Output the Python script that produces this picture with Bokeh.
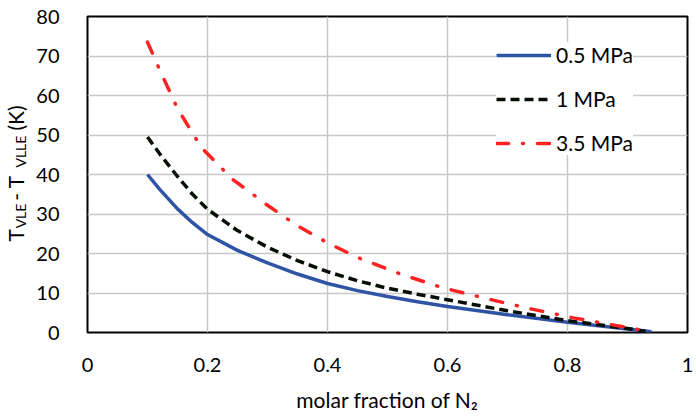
from bokeh.plotting import figure
from bokeh.models import (Range1d, FixedTicker, NumeralTickFormatter, Legend,
                          LegendItem, LinearAxis, CustomJSTickFormatter)
from bokeh.embed import file_html
from bokeh.resources import INLINE

# ---------------- data ----------------
x_ticks = [0, 0.2, 0.4, 0.6, 0.8, 1.0]
y_ticks = [0, 10, 20, 30, 40, 50, 60, 70, 80]

x_05 = [0.10, 0.12, 0.15, 0.175, 0.20, 0.25, 0.30, 0.35, 0.40, 0.45, 0.50,
        0.55, 0.60, 0.70, 0.80, 0.90, 0.94]
y_05 = [40.0, 36.3, 31.3, 27.8, 24.8, 20.8, 17.6, 14.8, 12.4, 10.6, 9.1,
        7.8, 6.6, 4.5, 2.6, 0.9, 0.2]

x_1 = [0.10, 0.12, 0.15, 0.175, 0.20, 0.25, 0.30, 0.35, 0.40, 0.45, 0.50,
       0.55, 0.60, 0.70, 0.80, 0.90, 0.93]
y_1 = [49.5, 45.3, 39.5, 35.0, 31.2, 25.8, 21.6, 18.2, 15.4, 13.1, 11.2,
       9.7, 8.3, 5.5, 3.0, 1.0, 0.3]

x_35 = [0.10, 0.12, 0.15, 0.19, 0.24, 0.30, 0.35, 0.40, 0.45, 0.52, 0.59,
        0.67, 0.735, 0.81, 0.88, 0.93]
y_35 = [73.5, 66.6, 56.7, 46.8, 39.0, 32.2, 27.0, 22.7, 19.0, 14.9, 11.4,
        8.4, 6.1, 3.7, 1.8, 0.4]

labels = ["0.5 MPa", "1 MPa", "3.5 MPa"]
x_title = "molar fraction of N\u2082"
# pieces of the y title "T_VLE - T_VLLE (K)" (main size / subscript size)
y_title_main = ["T", "- T", "(K)"]
y_title_main_at = [24.6, 36.6, 54.3]
y_title_sub = ["VLE", "VLLE"]
y_title_sub_at = [29.5, 45.8]

FONT = "Lato"

p = figure(width=696, height=416, x_range=Range1d(0, 1), y_range=Range1d(0, 80),
           output_backend="svg", toolbar_location=None,
           min_border_left=87, min_border_right=9, min_border_top=16,
           min_border_bottom=84)
p.background_fill_color = "white"
p.border_fill_color = "white"
p.outline_line_color = "black"
p.outline_line_width = 2

for ax in (p.xaxis[0], p.yaxis[0]):
    ax.axis_line_color = None
    ax.major_tick_line_color = None
    ax.minor_tick_line_color = None
    ax.major_label_text_font = FONT
    ax.major_label_text_font_size = "20px"
    ax.major_label_text_color = "black"
p.xaxis.ticker = FixedTicker(ticks=x_ticks)
p.yaxis.ticker = FixedTicker(ticks=y_ticks)
p.xaxis.formatter = NumeralTickFormatter(format="0.[0]")
p.yaxis.formatter = NumeralTickFormatter(format="0")
p.xaxis.major_label_standoff = 19
p.yaxis.major_label_standoff = 22

p.xaxis.axis_label = x_title
p.xaxis.axis_label_text_font = FONT
p.xaxis.axis_label_text_font_size = "21px"
p.xaxis.axis_label_text_font_style = "normal"
p.xaxis.axis_label_text_color = "black"
p.xaxis.axis_label_standoff = 12


def text_axis(pieces, at, size, standoff):
    ax = LinearAxis(ticker=FixedTicker(ticks=at),
                    formatter=CustomJSTickFormatter(
                        args=dict(at=at, pieces=pieces),
                        code="const i = at.indexOf(tick); return i >= 0 ? pieces[i] : '';"))
    ax.axis_line_color = None
    ax.major_tick_line_color = None
    ax.minor_tick_line_color = None
    ax.major_label_orientation = "parallel"
    ax.major_label_text_font = FONT
    ax.major_label_text_font_size = size
    ax.major_label_text_color = "black"
    ax.major_label_standoff = standoff
    p.add_layout(ax, "left")
    return ax


text_axis(y_title_sub, y_title_sub_at, "14px", -2)
text_axis(y_title_main, y_title_main_at, "21px", -25)

p.xgrid.ticker = FixedTicker(ticks=x_ticks)
p.ygrid.ticker = FixedTicker(ticks=y_ticks)
for g in (p.xgrid[0], p.ygrid[0]):
    g.grid_line_color = "#c8c8c8"
    g.grid_line_width = 1.5

r1 = p.line(x_05, y_05, line_color="#2F54A6", line_width=3.5)
r2 = p.line(x_1, y_1, line_color="#050f05", line_width=3.5, line_dash="9 5")
r3 = p.line(x_35, y_35, line_color="#FF2222", line_width=3.5,
            line_dash="12 14 1 14", line_cap="round")

legend = Legend(items=[LegendItem(label=labels[0], renderers=[r1]),
                       LegendItem(label=labels[1], renderers=[r2]),
                       LegendItem(label=labels[2], renderers=[r3])],
                location=(409, 177))
legend.label_text_font = FONT
legend.label_text_font_size = "21px"
legend.label_text_color = "black"
legend.glyph_width = 55
legend.glyph_height = 20
legend.label_height = 20
legend.label_standoff = 5
legend.spacing = 19
legend.padding = 12
legend.margin = 0
legend.border_line_color = None
legend.background_fill_color = "white"
legend.background_fill_alpha = 1.0
p.add_layout(legend)

open("out.html", "w").write(file_html(p, INLINE))
